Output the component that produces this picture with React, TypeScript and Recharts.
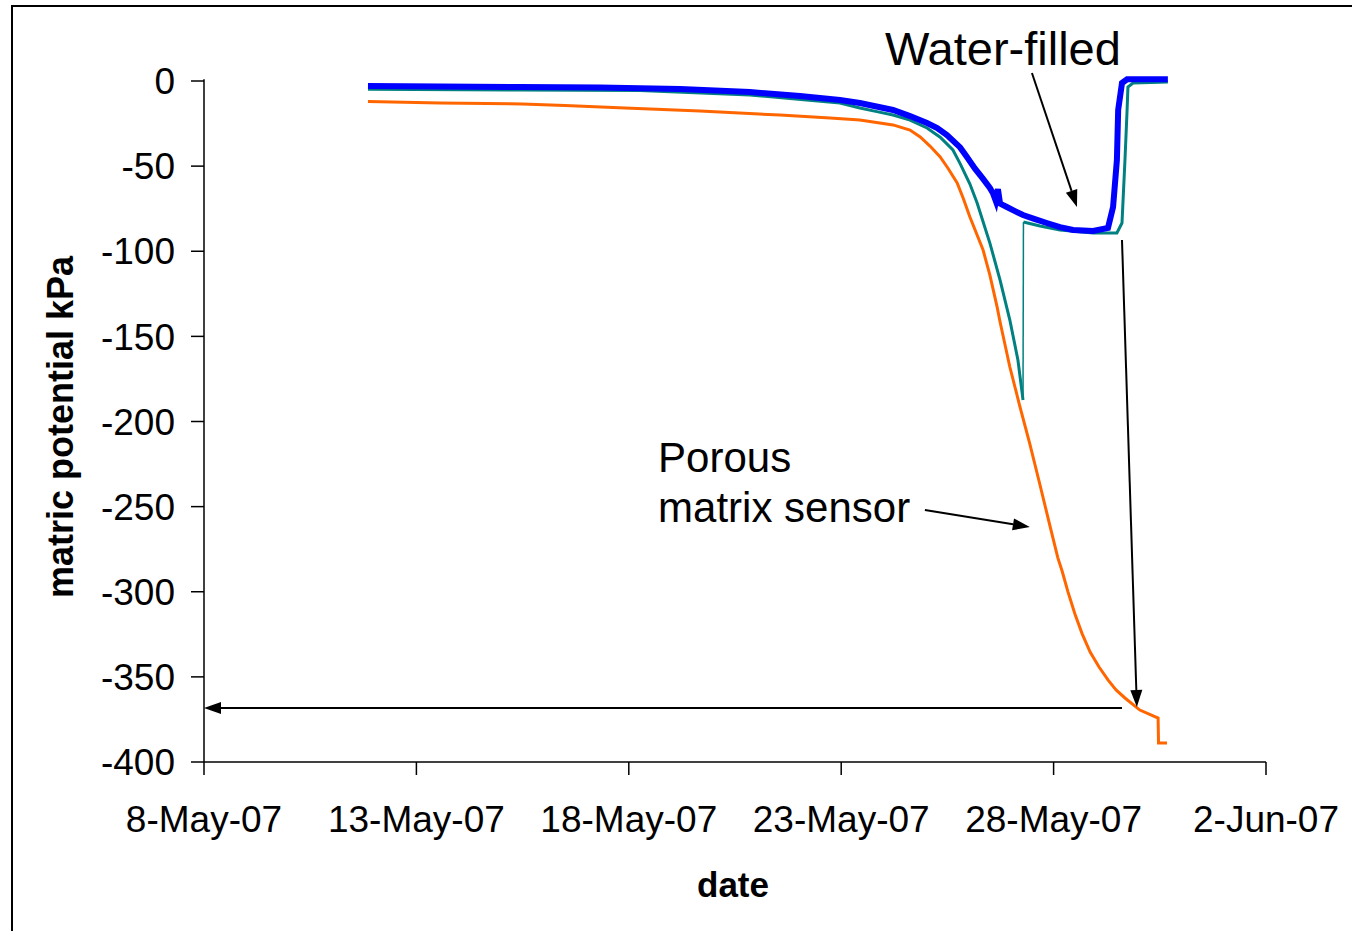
import React from 'react';
import { LineChart, Line, XAxis, YAxis, ReferenceLine, ReferenceDot, Label } from 'recharts';

const FONT = '"Liberation Sans", Arial, Helvetica, sans-serif';

// x values are days counted from 8-May-07
const dateTicks = [0, 5, 10, 15, 20, 25];
const dateLabels = ['8-May-07', '13-May-07', '18-May-07', '23-May-07', '28-May-07', '2-Jun-07'];
const kpaTicks = [0, -50, -100, -150, -200, -250, -300, -350, -400];

// water-filled tensiometer (thick blue)
const blueDay = [3.86, 5.56, 7.44, 9.32, 11.21, 12.85, 14.03, 14.97, 15.44, 16.22, 16.62, 17.02, 17.26, 17.49, 17.8,
  17.96, 18.15, 18.34, 18.5, 18.57, 18.64, 18.69, 18.74, 18.9, 19.09, 19.28, 19.56, 19.84, 20.15, 20.46,
  20.93, 21.28, 21.4, 21.49, 21.52, 21.61, 21.73, 22.69];
const blueKPa = [-2.9, -3.2, -3.5, -3.8, -4.7, -6.5, -8.8, -11.2, -12.9, -17.0, -20.6, -24.7, -27.6, -31.7, -39.0,
  -44.6, -51.5, -57.5, -62.8, -65.8, -70.5, -63.5, -72.0, -74.0, -76.4, -78.7, -81.1, -83.4, -85.8, -87.5,
  -88.1, -86.3, -74.0, -46.4, -17.0, -1.2, 1.0, 1.0];

// second water-filled sensor (teal), before and after the jump back
const tealDayA = [3.86, 7.44, 10.26, 12.85, 14.97, 15.44, 15.84, 16.22, 16.62, 17.02, 17.33, 17.63, 17.8, 18.03, 18.2,
  18.5, 18.74, 18.97, 19.16, 19.26, 19.28];
const tealKPaA = [-4.9, -5.3, -5.6, -8.2, -12.9, -15.9, -18.0, -20.0, -23.0, -27.6, -33.0, -40.5, -48.5, -60.5, -71.7,
  -95.2, -116.9, -140.4, -163.9, -183.3, -187.4];
const tealJumpDay = [19.28, 19.29];
const tealJumpKPa = [-187.4, -82.8];
const tealDayB = [19.29, 19.68, 20.15, 20.93, 21.49, 21.61, 21.68, 21.73, 21.75, 21.87, 22.69];
const tealKPaB = [-82.8, -85.2, -87.5, -89.3, -89.3, -83.4, -46.4, -17.0, -3.5, -1.2, -0.6];

// porous matrix sensor (orange)
const orangeDay = [3.86, 5.56, 7.49, 8.5, 9.91, 11.68, 13.56, 14.74, 15.44, 16.22, 16.62, 16.86, 17.09, 17.33, 17.51,
  17.73, 17.87, 18.03, 18.34, 18.5, 18.67, 18.74, 18.97, 19.21, 19.44, 19.68, 19.92, 20.1, 20.2, 20.34,
  20.5, 20.67, 20.86, 21.07, 21.28, 21.47, 21.68, 22.03, 22.46, 22.47, 22.67];
const orangeKPa = [-12.0, -12.9, -13.5, -14.4, -15.9, -17.6, -20.0, -21.7, -22.9, -25.8, -28.8, -32.9, -38.2, -44.6, -51.1,
  -59.9, -68.7, -79.9, -99.3, -114.0, -132.7, -141.6, -168.0, -191.5, -213.2, -237.3, -261.9, -280.1, -287.8, -300.2,
  -312.9, -324.6, -335.4, -344.2, -351.8, -357.7, -362.4, -369.5, -374.2, -388.8, -388.8];

// annotation arrows: [fromDay, fromKPa, toDay, toKPa]
const arrows = [
  [19.49, 4.7, 20.55, -74.0],
  [21.61, -93.4, 21.96, -367.7],
  [21.61, -368.3, 0, -368.3],
  [16.97, -252.0, 19.44, -262.0],
];

// annotation texts: [day, kPa at baseline, text, size]
const notes: [number, number, string, number][] = [
  [16.03, 9.4, 'Water-filled', 47],
  [10.69, -229.7, 'Porous', 42],
  [10.69, -259.0, 'matrix sensor', 42],
];

const toPoints = (days: number[], vals: number[]) => days.map((d, i) => ({ day: d, kpa: vals[i] }));

const blueData = toPoints(blueDay, blueKPa);
const tealDataA = toPoints(tealDayA, tealKPaA);
const tealJump = toPoints(tealJumpDay, tealJumpKPa);
const tealDataB = toPoints(tealDayB, tealKPaB);
const orangeData = toPoints(orangeDay, orangeKPa);

const arrowShape = (props: any) => {
  const { x1, y1, x2, y2 } = props;
  const ang = Math.atan2(y2 - y1, x2 - x1);
  const len = 17;
  const half = 6;
  const bx = x2 - len * Math.cos(ang);
  const by = y2 - len * Math.sin(ang);
  const px = -Math.sin(ang) * half;
  const py = Math.cos(ang) * half;
  return (
    <g>
      <line x1={x1} y1={y1} x2={bx} y2={by} stroke="#000" strokeWidth={2} />
      <polygon points={`${x2},${y2} ${bx + px},${by + py} ${bx - px},${by - py}`} fill="#000" />
    </g>
  );
};

const axisStroke = { stroke: '#000', strokeWidth: 1.5 };

export default function App() {
  return (
    <div style={{ position: 'absolute', left: 0, top: 0, width: 1352, height: 931, overflow: 'hidden', background: '#fff' }}>
      <div style={{ position: 'absolute', left: 11, top: 5, width: 1400, height: 1000, border: '2px solid #000' }} />
      <div style={{ position: 'absolute', left: 0, top: 0 }}>
        <LineChart width={1352} height={931} margin={{ top: 79.3, right: 86, bottom: 0, left: 0 }} style={{ fontFamily: FONT }}>
          <XAxis
            dataKey="day"
            type="number"
            domain={[0, 25]}
            ticks={dateTicks}
            interval={0}
            tickFormatter={(v: number) => dateLabels[dateTicks.indexOf(v)]}
            height={169}
            tickSize={13}
            tickMargin={31}
            tick={{ fontSize: 37, fill: '#000', fontFamily: FONT }}
            axisLine={axisStroke}
            tickLine={axisStroke}
          >
            <Label
              content={({ viewBox }: any) => (
                <text x={viewBox.x + viewBox.width / 2 - 2} y={viewBox.y + 135} textAnchor="middle"
                  fontSize={35} fontWeight="bold" fill="#000" fontFamily={FONT}>date</text>
              )}
            />
          </XAxis>
          <YAxis
            type="number"
            domain={[-400, 1]}
            ticks={kpaTicks}
            interval={0}
            width={204}
            tickSize={13}
            tickMargin={16}
            tick={{ fontSize: 37, fill: '#000', fontFamily: FONT }}
            axisLine={axisStroke}
            tickLine={axisStroke}
          >
            <Label
              content={({ viewBox }: any) => {
                const cx = viewBox.x + 60;
                const cy = 427;
                return (
                  <text x={cx} y={cy} transform={`rotate(-90, ${cx}, ${cy})`} textAnchor="middle"
                    dominantBaseline="central" fontSize={36} fontWeight="bold" fill="#000" fontFamily={FONT}>
                    matric potential kPa
                  </text>
                );
              }}
            />
          </YAxis>
          <Line data={orangeData} dataKey="kpa" type="linear" stroke="#FF6600" strokeWidth={3} dot={false} isAnimationActive={false} />
          <Line data={tealDataA} dataKey="kpa" type="linear" stroke="#008080" strokeWidth={3} dot={false} isAnimationActive={false} />
          <Line data={tealJump} dataKey="kpa" type="linear" stroke="#008080" strokeWidth={1.5} dot={false} isAnimationActive={false} />
          <Line data={tealDataB} dataKey="kpa" type="linear" stroke="#008080" strokeWidth={3} dot={false} isAnimationActive={false} />
          <Line data={blueData} dataKey="kpa" type="linear" stroke="#0000FF" strokeWidth={6} dot={false} isAnimationActive={false} />
          {arrows.map((a, i) => (
            <ReferenceLine
              key={`arrow-${i}`}
              segment={[{ x: a[0], y: a[1] }, { x: a[2], y: a[3] }]}
              ifOverflow="visible"
              shape={arrowShape}
            />
          ))}
          {notes.map((n, i) => (
            <ReferenceDot
              key={`note-${i}`}
              x={n[0]}
              y={n[1]}
              r={0}
              ifOverflow="visible"
              shape={(p: any) => (
                <text x={p.cx} y={p.cy} fontSize={n[3]} fill="#000" fontFamily={FONT}>{n[2]}</text>
              )}
            />
          ))}
        </LineChart>
      </div>
    </div>
  );
}
